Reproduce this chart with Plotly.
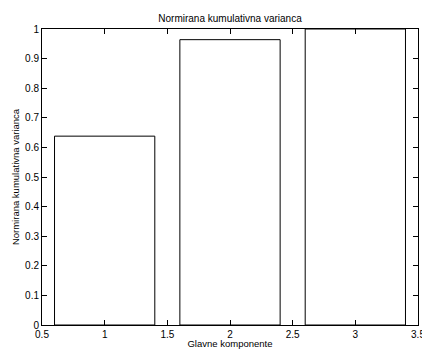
import plotly.graph_objects as go

components = [1, 2, 3]
cum_variance = [0.638, 0.964, 1.0]
x_ticks = [0.5, 1, 1.5, 2, 2.5, 3, 3.5]
x_ticktext = ["0.5", "1", "1.5", "2", "2.5", "3", "3.5"]
y_ticks = [0, 0.1, 0.2, 0.3, 0.4, 0.5, 0.6, 0.7, 0.8, 0.9, 1]
y_ticktext = ["0", "0.1", "0.2", "0.3", "0.4", "0.5", "0.6", "0.7", "0.8", "0.9", "1"]

font = "Liberation Sans, Arial, Helvetica, sans-serif"

fig = go.Figure(go.Bar(
    x=components, y=cum_variance, width=0.8,
    marker=dict(color="white", line=dict(color="black", width=1)),
))

axis_common = dict(
    showline=True, linecolor="black", linewidth=1, mirror="ticks",
    ticks="inside", ticklen=5, tickcolor="black", tickwidth=1,
    showgrid=False, zeroline=False, ticklabeloverflow="allow",
    automargin=False,
    tickfont=dict(family=font, size=10, color="black"),
)

fig.update_layout(
    width=422, height=349,
    margin=dict(l=42, r=4, t=29, b=24),
    paper_bgcolor="white", plot_bgcolor="white",
    showlegend=False,
    title=dict(text="Normirana kumulativna varianca", x=0.5, xref="paper",
               xanchor="center", y=1 - 18.5 / 349, yanchor="middle",
               yref="container",
               font=dict(family=font, size=10, color="black")),
    xaxis=dict(range=[0.5, 3.5], tickvals=x_ticks, ticktext=x_ticktext,
               title=dict(text="Glavne komponente", standoff=2,
                          font=dict(family=font, size=9.5, color="black")),
               **axis_common),
    yaxis=dict(range=[0, 1], tickvals=y_ticks, ticktext=y_ticktext,
               title=dict(text="Normirana kumulativna varianca", standoff=3,
                          font=dict(family=font, size=9.5, color="black")),
               **axis_common),
)

fig.write_html("out.html")
